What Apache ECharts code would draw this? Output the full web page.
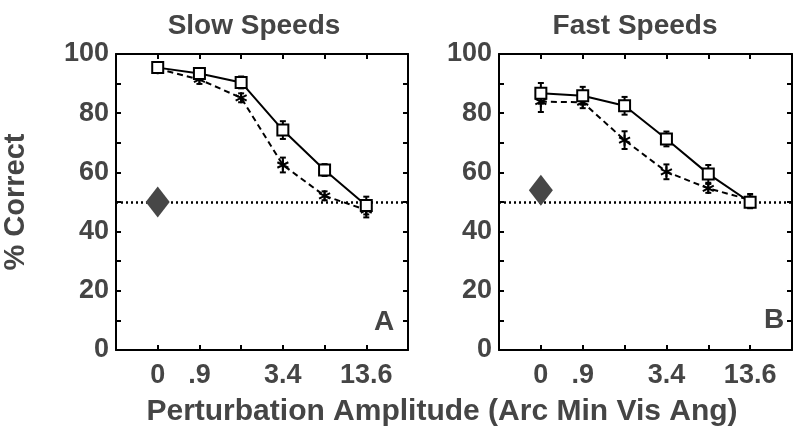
<!DOCTYPE html>
<html>
<head>
<meta charset="utf-8">
<script src="https://cdn.jsdelivr.net/npm/echarts@6/dist/echarts.min.js"></script>
<style>html,body{margin:0;padding:0;background:#fff}#c{width:800px;height:443px}</style>
</head>
<body>
<div id="c"></div>
<script>
// ---- data ----
var xPositions = [0, 1, 2, 3, 4, 5];
var xTickLabels = ['0', '.9', '', '3.4', '', '13.6'];
var panelTitles = ['Slow Speeds', 'Fast Speeds'];
var panelLetters = ['A', 'B'];

var slowSolid = [95.4, 93.4, 90.4, 74.3, 60.8, 48.8];
var slowSolidErr = [1.2, 1.5, 2, 3, 2, 3];
var slowDashed = [95.0, 91.4, 85.2, 62.5, 52.1, 47.3];
var slowDashedErr = [1, 1.5, 1.5, 2.5, 1.5, 2.5];
var slowDiamond = [50];

var fastSolid = [86.7, 85.9, 82.5, 71.3, 59.5, 49.9];
var fastSolidErr = [3.5, 3, 3, 2.5, 3, 2];
var fastDashed = [83.9, 83.7, 70.9, 60.2, 54.6, 50.7];
var fastDashedErr = [3.5, 2, 3, 2.5, 1.5, 2];
var fastDiamond = [54];

var chanceLevel = 50;

// ---- chart ----
var chart = echarts.init(document.getElementById('c'), null, {renderer: 'canvas'});
var txt = '#454545';
var FONT = 'Liberation Sans';

function pairs(vals) { return vals.map(function (v, i) { return [xPositions[i], v]; }); }
function errData(vals, errs) { return vals.map(function (v, i) { return [xPositions[i], v - errs[i], v + errs[i]]; }); }

var asterisk = 'path://M5,0L5,10M0.7,2.5L9.3,7.5M9.3,2.5L0.7,7.5';

function errSeries(idx, vals, errs) {
  return {
    type: 'custom', xAxisIndex: idx * 2, yAxisIndex: idx * 2, z: 3,
    data: errData(vals, errs),
    renderItem: function (params, api) {
      var x = api.value(0);
      var lo = api.coord([x, api.value(1)]);
      var hi = api.coord([x, api.value(2)]);
      var cw = 3;
      var st = {stroke: '#000', lineWidth: 2};
      return {
        type: 'group', children: [
          {type: 'line', shape: {x1: lo[0], y1: lo[1], x2: hi[0], y2: hi[1]}, style: st},
          {type: 'line', shape: {x1: lo[0] - cw, y1: lo[1], x2: lo[0] + cw, y2: lo[1]}, style: st},
          {type: 'line', shape: {x1: hi[0] - cw, y1: hi[1], x2: hi[0] + cw, y2: hi[1]}, style: st}
        ]
      };
    }
  };
}

function panelSeries(idx, solid, solidErr, dashed, dashedErr, diamond) {
  return [
    errSeries(idx, dashed, dashedErr),
    errSeries(idx, solid, solidErr),
    {
      type: 'line', xAxisIndex: idx * 2, yAxisIndex: idx * 2, z: 4,
      data: pairs(dashed), symbol: asterisk, symbolSize: 11,
      lineStyle: {color: '#000', width: 2, type: [6, 4]},
      itemStyle: {color: '#000', borderColor: '#000', borderWidth: 2},
      silent: true,
      markLine: {
        silent: true, symbol: 'none', label: {show: false},
        lineStyle: {color: '#000', width: 2.5, type: [2, 3]},
        data: [{yAxis: chanceLevel}]
      }
    },
    {
      type: 'line', xAxisIndex: idx * 2, yAxisIndex: idx * 2, z: 5,
      data: pairs(solid), symbol: 'rect', symbolSize: 11,
      lineStyle: {color: '#000', width: 2, type: 'solid'},
      itemStyle: {color: '#fff', borderColor: '#000', borderWidth: 2}
    },
    {
      type: 'scatter', xAxisIndex: idx * 2, yAxisIndex: idx * 2, z: 6,
      data: pairs(diamond), symbol: 'diamond', symbolSize: [24, 31],
      itemStyle: {color: '#474747', opacity: 1}
    }
  ];
}

var grids = [
  {left: 112, top: 54, width: 296, height: 296},
  {left: 499, top: 54, width: 293, height: 296}
];

var xAxes = [], yAxes = [];
grids.forEach(function (g, i) {
  var axLine = {onZero: false, lineStyle: {color: '#000', width: 2}};
  var tick = {inside: true, length: 5, lineStyle: {color: '#000', width: 2}};
  xAxes.push({
    type: 'value', gridIndex: i, min: -1, max: 6, interval: 1, position: 'bottom',
    axisLine: axLine, splitLine: {show: false}, axisTick: tick,
    axisLabel: {
      margin: 12, color: txt, fontFamily: FONT, fontWeight: 'bold', fontSize: 27,
      formatter: function (v) { return (v >= 0 && v < xTickLabels.length) ? xTickLabels[v] : ''; }
    }
  });
  xAxes.push({
    type: 'value', gridIndex: i, min: -1, max: 6, interval: 1, position: 'top',
    axisLine: axLine, splitLine: {show: false}, axisTick: tick,
    axisLabel: {show: false}
  });
  yAxes.push({
    type: 'value', gridIndex: i, min: 0, max: 100, interval: 10, position: 'left',
    name: i === 0 ? '% Correct' : '', nameLocation: 'middle', nameGap: 86, nameRotate: 90,
    nameTextStyle: {color: txt, fontFamily: FONT, fontWeight: 'bold', fontSize: 29},
    axisLine: axLine, splitLine: {show: false}, axisTick: tick,
    axisLabel: {
      margin: 7, color: txt, fontFamily: FONT, fontWeight: 'bold', fontSize: 27,
      formatter: function (v) { return v % 20 === 0 ? String(v) : ''; }
    }
  });
  yAxes.push({
    type: 'value', gridIndex: i, min: 0, max: 100, interval: 10, position: 'right',
    axisLine: axLine, splitLine: {show: false}, axisTick: tick,
    axisLabel: {show: false}
  });
});

var titleStyle = {fill: txt, font: 'bold 28px "Liberation Sans"', textAlign: 'center', textVerticalAlign: 'middle'};

var option = {
  animation: false,
  backgroundColor: '#fff',
  grid: grids,
  xAxis: xAxes,
  yAxis: yAxes,
  series: [].concat(
    panelSeries(0, slowSolid, slowSolidErr, slowDashed, slowDashedErr, slowDiamond),
    panelSeries(1, fastSolid, fastSolidErr, fastDashed, fastDashedErr, fastDiamond)
  ),
  graphic: [
    {type: 'text', x: 254, y: 26, style: Object.assign({text: panelTitles[0]}, titleStyle)},
    {type: 'text', x: 635, y: 26, style: Object.assign({text: panelTitles[1]}, titleStyle)},
    {type: 'text', x: 384, y: 322, style: Object.assign({text: panelLetters[0]}, titleStyle)},
    {type: 'text', x: 774, y: 320, style: Object.assign({text: panelLetters[1]}, titleStyle)},
    {type: 'text', x: 442, y: 412, style: {text: 'Perturbation Amplitude (Arc Min Vis Ang)', fill: txt, font: 'bold 30px "Liberation Sans"', textAlign: 'center', textVerticalAlign: 'middle'}}
  ]
};
chart.setOption(option);
</script>
</body>
</html>
